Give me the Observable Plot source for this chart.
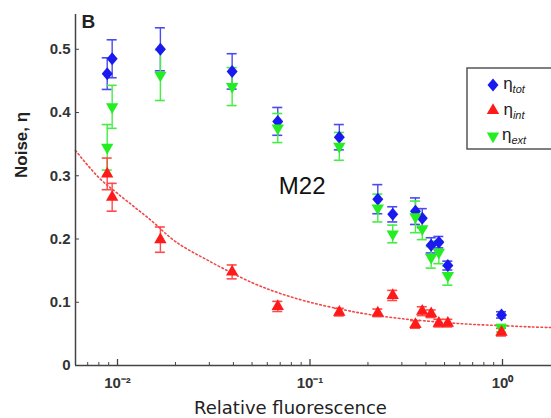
<!DOCTYPE html>
<html><head><meta charset="utf-8">
<script src="https://cdn.jsdelivr.net/npm/d3@7"></script>
<script src="https://cdn.jsdelivr.net/npm/@observablehq/plot@0.6"></script>
<style>body{margin:0;background:#fff}#chart{width:551px;height:418px}</style>
</head><body><div id="chart"></div>
<script>
// Relative fluorescence of each strain
const fluorescence = [0.00884, 0.00938, 0.0167, 0.0394, 0.068, 0.142, 0.225, 0.269, 0.353, 0.383, 0.426, 0.467, 0.52, 0.988];
// total noise
const etaTot    = [0.4615, 0.485, 0.500, 0.465, 0.386, 0.361, 0.263, 0.239, 0.244, 0.233, 0.190, 0.195, 0.158, 0.080];
const etaTotErr = [0.025, 0.030, 0.034, 0.028, 0.022, 0.020, 0.023, 0.012, 0.021, 0.015, 0.012, 0.009, 0.007, 0.005];
// intrinsic noise
const etaInt    = [0.303, 0.266, 0.199, 0.148, 0.0934, 0.0844, 0.0833, 0.1108, 0.0649, 0.0859, 0.0818, 0.067, 0.067, 0.0527];
const etaIntErr = [0.025, 0.022, 0.020, 0.011, 0.008, 0.006, 0.006, 0.008, 0.006, 0.007, 0.006, 0.006, 0.006, 0.006];
// extrinsic noise
const etaExt    = [0.345, 0.409, 0.459, 0.441, 0.3755, 0.3465, 0.249, 0.208, 0.235, 0.216, 0.171, 0.179, 0.142, 0.059];
const etaExtErr = [0.036, 0.034, 0.040, 0.030, 0.023, 0.022, 0.022, 0.014, 0.025, 0.017, 0.017, 0.018, 0.015, 0.006];
// dotted fit curve of intrinsic noise
const fitX = [0.00605, 0.008, 0.01, 0.015, 0.02, 0.03, 0.05, 0.07, 0.1, 0.15, 0.2, 0.3, 0.5, 0.7, 1.0, 1.4, 1.797];
const fitY = [0.340, 0.297, 0.272, 0.229, 0.196, 0.165, 0.131, 0.114, 0.100, 0.088, 0.081, 0.074, 0.068, 0.065, 0.063, 0.061, 0.060];
// axes
const xDomain = [0.00605, 1.797];
const yDomain = [0, 0.555];
const xMajor = [0.01, 0.1, 1];
const xMajorLabels = ["10\u207B\u00B2", "10\u207B\u00B9", "10\u2070"];
const xMinor = [0.007, 0.008, 0.009, 0.02, 0.03, 0.04, 0.05, 0.06, 0.07, 0.08, 0.09, 0.2, 0.3, 0.4, 0.5, 0.6, 0.7, 0.8, 0.9];
const yTicks = [0, 0.1, 0.2, 0.3, 0.4, 0.5];
const yTickLabels = ["0", "0.1", "0.2", "0.3", "0.4", "0.5"];
const seriesNames = ["tot", "int", "ext"];

const colTot = "#1a1aee", colInt = "#ff1a1a", colExt = "#22ee22";
const errTot = "#4a4af0", errInt = "#ff4a4a", errExt = "#44ee44";

// rhombus marker like the reference's diamond
const rhombus = {draw(ctx) { ctx.moveTo(0, -6.5); ctx.lineTo(5.5, 0); ctx.lineTo(0, 6.5); ctx.lineTo(-5.5, 0); ctx.closePath(); }};

function rows(vals, errs) {
  return fluorescence.map((x, i) => ({x, v: vals[i], lo: vals[i] - errs[i], hi: vals[i] + errs[i]}));
}
const totRows = rows(etaTot, etaTotErr);
const intRows = rows(etaInt, etaIntErr);
const extRows = rows(etaExt, etaExtErr);

function errMarks(data, color) {
  return [
    Plot.ruleX(data, {x: "x", y1: "lo", y2: "hi", stroke: color, strokeWidth: 1.4}),
    Plot.ruleY(data, {y: "lo", x1: "x", x2: "x", insetLeft: -5, insetRight: -5, stroke: color, strokeWidth: 1.6}),
    Plot.ruleY(data, {y: "hi", x1: "x", x2: "x", insetLeft: -5, insetRight: -5, stroke: color, strokeWidth: 1.6})
  ];
}

const font = "'Liberation Sans', Arial, Helvetica, sans-serif";

const chart = Plot.plot({
  width: 551, height: 418,
  marginLeft: 75, marginRight: 0, marginTop: 14, marginBottom: 53,
  style: {fontFamily: font, background: "#fff", overflow: "visible"},
  x: {type: "log", domain: xDomain},
  y: {domain: yDomain},
  marks: [
    Plot.line(fitX.map((x, i) => ({x, y: fitY[i]})), {x: "x", y: "y", curve: "catmull-rom", stroke: "#f04848", strokeWidth: 1.6, strokeDasharray: "1.6,2.6"}),
    ...errMarks(totRows, errTot),
    ...errMarks(extRows, errExt),
    ...errMarks(intRows, errInt),
    Plot.dot(totRows, {x: "x", y: "v", symbol: rhombus, fill: colTot, stroke: "none"}),
    Plot.dot(extRows, {x: "x", y: "v", symbol: "triangle", rotate: 180, r: 4.6, fill: colExt, stroke: "none"}),
    Plot.dot(intRows, {x: "x", y: "v", symbol: "triangle", r: 4.6, fill: colInt, stroke: "none"}),
    // axis lines
    Plot.ruleX([xDomain[0]], {stroke: "#444", strokeWidth: 1.5}),
    Plot.ruleY([yDomain[0]], {stroke: "#444", strokeWidth: 1.5}),
    // y axis
    Plot.axisY({ticks: yTicks, tickSize: -4, tickPadding: 9, tickFormat: d => yTickLabels[yTicks.indexOf(d)], fontSize: 15, fontWeight: "bold", fill: "#333", stroke: "#444", label: null}),
    // x axis
    Plot.axisX({ticks: xMinor, tickSize: -3, tickFormat: () => "", stroke: "#444", label: null}),
    Plot.axisX({ticks: xMajor, tickSize: -6, tickFormat: () => "", stroke: "#444", strokeWidth: 1.3, label: null}),
    Plot.axisX({ticks: xMajor, tickSize: 0, tickPadding: 12, tickFormat: d => xMajorLabels[xMajor.indexOf(d)], fontSize: 15, fontWeight: "bold", fill: "#333", label: null}),
    // axis titles
    Plot.text(["Noise, \u03B7"], {frameAnchor: "left", rotate: -90, dx: -54, dy: -12, fontSize: 17, fontWeight: "bold", fill: "#222"}),
    Plot.text(["Relative fluorescence"], {frameAnchor: "bottom", dx: -23, dy: 48, fontSize: 18, fontFamily: "'DejaVu Sans', sans-serif", fill: "#222", lineAnchor: "bottom"}),
    // annotations
    Plot.text(["B"], {frameAnchor: "top-left", dx: 6, dy: 13, fontSize: 19, fontWeight: "bold", fill: "#222", textAnchor: "start", lineAnchor: "bottom"}),
    Plot.text(["M22"], {frameAnchor: "top-left", dx: 250, dy: 179, fontSize: 24, fill: "#111", textAnchor: "end", lineAnchor: "bottom"})
  ]
});
document.getElementById("chart").appendChild(chart);

// legend
const svg = d3.select(chart);
const lg = svg.append("g").attr("font-family", font);
lg.append("rect").attr("x", 467).attr("y", 68).attr("width", 90).attr("height", 81)
  .attr("fill", "#fff").attr("stroke", "#555").attr("stroke-width", 1.5);
const legendItems = [
  {name: seriesNames[0], color: colTot, sym: rhombus, rot: 0},
  {name: seriesNames[1], color: colInt, sym: d3.symbolTriangle, rot: 0},
  {name: seriesNames[2], color: colExt, sym: d3.symbolTriangle, rot: 180}
];
legendItems.forEach((it, i) => {
  const cy = 85 + i * 25.5;
  lg.append("path").attr("d", d3.symbol(it.sym, Math.PI * 4.6 * 4.6)())
    .attr("transform", `translate(493,${cy}) rotate(${it.rot})`).attr("fill", it.color);
  const t = lg.append("text").attr("x", 514).attr("y", cy + 4).attr("font-size", 17).attr("fill", "#222");
  t.append("tspan").text("\u03B7");
  t.append("tspan").attr("dy", 4).attr("font-size", 11).attr("font-style", "italic").text(it.name);
});
</script>
</body></html>
